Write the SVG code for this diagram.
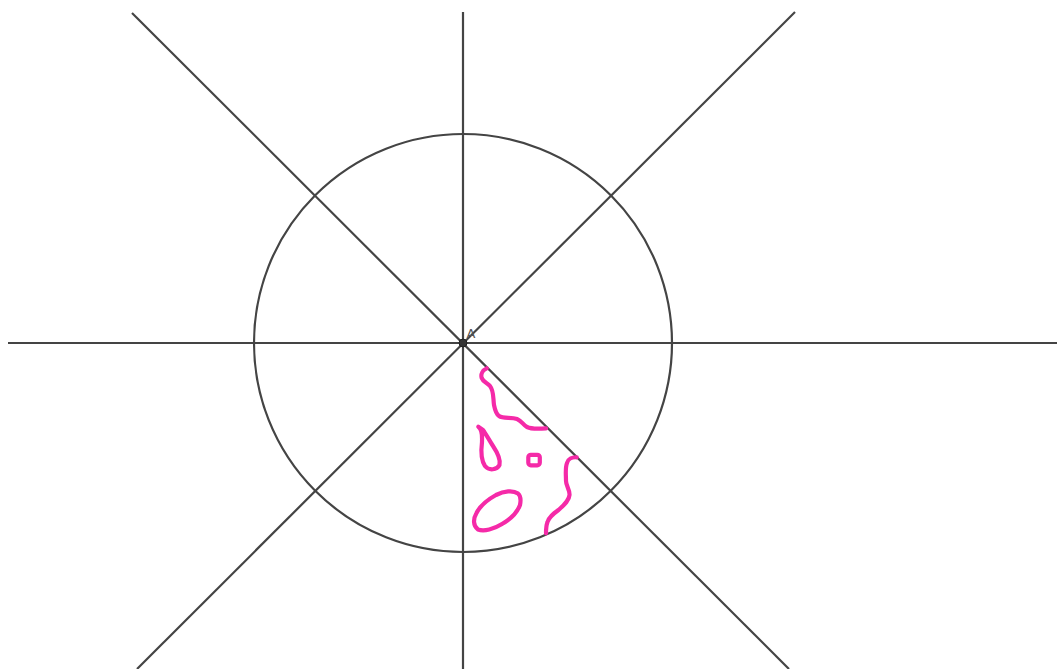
<svg xmlns="http://www.w3.org/2000/svg" width="1058" height="669" viewBox="0 0 1058 669">
<style>
.ln{stroke:#444;stroke-width:2.2;fill:none}
.pk{stroke:#f52aa8;stroke-width:4.2;fill:none;stroke-linecap:round;stroke-linejoin:round}
.lbl{font-family:"DejaVu Sans",sans-serif;font-size:13px;fill:#555}
</style>
<rect width="1058" height="669" fill="#fff"/>
<g id="connectors">
<line class="ln" x1="8" y1="343" x2="1057" y2="343"/>
<line class="ln" x1="463" y1="12" x2="463" y2="669"/>
<line class="ln" x1="132" y1="13" x2="789" y2="669"/>
<line class="ln" x1="795" y1="12" x2="137" y2="669"/>
</g>
<g id="circle"><circle class="ln" cx="463" cy="343" r="209"/></g>
<g id="scribbles">
<path class="pk" d="M486.7,368.3 C483,370 480.5,374 481.7,378 C483,382 488,383 490,386 C494,391 493,398 494,405 C495,410 496,414 499,416 C503,419 511,417 517,419 C522,421 523,425 527,427 C531,429 538,429 546,428.3"/>
<path class="pk" d="M478.3,426.7 C483,430 482,436 482,442 C481,450 481,460 485,466 C489,471 497,470 499.5,465 C501,459 497,452 493,446 C489,440 486,434 483,430 Z"/>
<rect class="pk" x="528.3" y="454.8" width="11.5" height="10.5" rx="2.5"/>
<path class="pk" d="M518,493.5 C513,490 504,491 496,495 C487,500 480,506 476.5,513 C473,519 473,526 478,529.5 C484,532 494,529 502,524 C511,519 517,513 520,505 C521,500 521,496 518,493.5 Z"/>
<path class="pk" d="M576.7,457.3 C572,457 568,459 567,463 C565,468 566,475 566,481 C566,486 570,490 569.5,495 C569,501 564,505 558.5,510 C553,514 549,517 547.5,522 C546,526 546,530 546,533.3"/>
</g>
<g id="pointA">
<circle cx="463" cy="343" r="4" fill="#333" stroke="#222" stroke-width="1"/>
<text class="lbl" x="466.5" y="337.5">A</text>
</g>
</svg>
